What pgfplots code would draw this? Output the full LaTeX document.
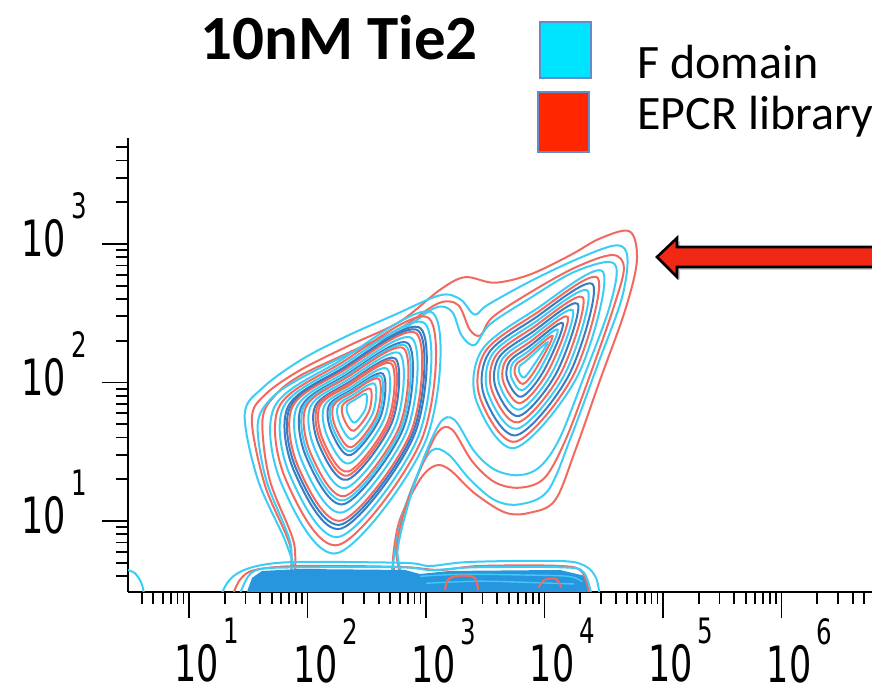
\documentclass[border=0pt]{standalone}
\usepackage{fontspec}
\setmainfont{Carlito}
\newfontfamily\tickfont{DejaVu Sans}
\usepackage{graphicx}
\usepackage{pgfplots}
\pgfplotsset{compat=1.18}

\definecolor{cyl}{RGB}{60,205,245}
\definecolor{rdl}{RGB}{242,105,95}
\definecolor{bll}{RGB}{55,125,195}
\definecolor{flr}{RGB}{40,150,222}
\definecolor{boxcy}{RGB}{0,229,255}
\definecolor{boxrd}{RGB}{255,38,0}
\definecolor{boxedge}{RGB}{100,140,200}
\definecolor{arrowrd}{RGB}{240,40,20}

% decade labels: "10" with the exponent set high and to the right
\newcommand{\dec}[1]{\scalebox{0.7}[1]{\tickfont\fontsize{25bp}{25bp}\selectfont 10\kern3.5bp\raisebox{19bp}{\fontsize{17.5bp}{17.5bp}\selectfont #1}}}

\pgfplotsset{
  cy/.style={cyl, line width=1bp, smooth cycle, tension=0.55},
  rd/.style={rdl, line width=1bp, smooth cycle, tension=0.55},
  bl/.style={bll, line width=1bp, smooth cycle, tension=0.55},
  cyo/.style={cyl, line width=1bp, smooth, tension=0.55},
  rdo/.style={rdl, line width=1bp, smooth, tension=0.55},
}

\begin{document}
\begin{tikzpicture}
\useasboundingbox (0,0) rectangle (436bp,347bp);

\begin{axis}[
  at={(64bp,51bp)}, anchor=south west,
  scale only axis, width=372bp, height=227bp,
  xmin=0.485, xmax=6.764, ymin=0.487, ymax=3.765,
  axis x line*=bottom, axis y line*=left,
  axis line style={line width=1.3bp, black},
  tick align=outside,
  major tick length=13bp, minor tick length=6bp,
  tick style={black, line width=0.9bp},
  xtick={1,2,3,4,5,6},
  xticklabels={\dec{1},\dec{2},\dec{3},\dec{4},\dec{5},\dec{6}},
  minor xtick={0.602,0.699,0.778,0.845,0.903,0.954,
    1.301,1.477,1.602,1.699,1.778,1.845,1.903,1.954,
    2.301,2.477,2.602,2.699,2.778,2.845,2.903,2.954,
    3.301,3.477,3.602,3.699,3.778,3.845,3.903,3.954,
    4.301,4.477,4.602,4.699,4.778,4.845,4.903,4.954,
    5.301,5.477,5.602,5.699,5.778,5.845,5.903,5.954,
    6.301,6.477,6.602,6.699},
  ytick={1,2,3},
  yticklabels={\dec{1},\dec{2},\dec{3}},
  minor ytick={0.602,0.699,0.778,0.845,0.903,0.954,
    1.301,1.477,1.602,1.699,1.778,1.845,1.903,1.954,
    2.301,2.477,2.602,2.699,2.778,2.845,2.903,2.954,
    3.301,3.477,3.602,3.699},
  xticklabel style={anchor=north, inner sep=0pt, xshift=9bp},
  yticklabel style={anchor=base east, inner sep=0pt, xshift=-7.5bp, yshift=-6.5bp},
]

% outer contours that join both populations
\addplot[rd] coordinates {(4.72,3.09) (4.78,2.88) (4.68,2.52) (4.47,2.02) (4.26,1.51) (4.09,1.15) (3.88,1.06) (3.67,1.06) (3.41,1.20) (3.20,1.37) (3.08,1.40) (2.95,1.30) (2.78,1.01) (2.72,0.72) (2.71,0.45) (1.94,0.45) (1.85,0.83) (1.64,1.26) (1.53,1.73) (1.64,1.91) (1.94,2.09) (2.36,2.27) (2.78,2.44) (3.12,2.67) (3.33,2.76) (3.58,2.72) (3.88,2.78) (4.22,2.92) (4.47,3.04)};
\addplot[cy] coordinates {(1.47,1.77) (1.62,1.96) (1.94,2.16) (2.32,2.33) (2.74,2.49) (3.12,2.63) (3.29,2.60) (3.41,2.49) (3.52,2.56) (3.88,2.73) (4.30,2.90) (4.61,2.99) (4.70,2.90) (4.65,2.60) (4.45,2.13) (4.23,1.62) (4.03,1.22) (3.79,1.12) (3.58,1.15) (3.37,1.30) (3.19,1.48) (3.05,1.51) (2.91,1.30) (2.78,0.97) (2.70,0.57) (2.69,0.45) (1.93,0.45) (1.92,0.57) (1.81,0.86) (1.58,1.30)};
\addplot[rd] coordinates {(1.62,1.73) (1.73,1.91) (1.94,2.05) (2.36,2.22) (2.78,2.39) (3.10,2.57) (3.27,2.56) (3.37,2.38) (3.46,2.34) (3.56,2.47) (3.88,2.65) (4.26,2.83) (4.57,2.92) (4.67,2.83) (4.59,2.56) (4.40,2.09) (4.18,1.59) (4.00,1.31) (3.79,1.24) (3.58,1.28) (3.39,1.43) (3.22,1.66) (3.10,1.64) (2.95,1.37) (2.82,1.08) (2.75,0.79) (2.74,0.45) (1.98,0.45) (1.88,0.86) (1.68,1.30)};
\addplot[cy] coordinates {(1.58,1.70) (1.70,1.89) (1.94,2.03) (2.36,2.21) (2.78,2.37) (3.08,2.54) (3.22,2.51) (3.30,2.34) (3.41,2.27) (3.54,2.42) (3.88,2.61) (4.23,2.79) (4.53,2.87) (4.61,2.80) (4.54,2.52) (4.35,2.08) (4.13,1.60) (3.96,1.39) (3.78,1.33) (3.58,1.37) (3.41,1.50) (3.24,1.73) (3.12,1.71) (2.97,1.43) (2.85,1.12) (2.76,0.79) (2.75,0.45) (1.95,0.45) (1.85,0.86) (1.65,1.30)};

% left population
\addplot[cy] coordinates {(1.717,1.816) (2.257,2.148) (3.060,2.500) (3.000,1.585) (2.257,0.769) (1.785,1.260)};
\addplot[rd] coordinates {(1.756,1.817) (2.266,2.131) (3.025,2.464) (2.968,1.599) (2.266,0.828) (1.820,1.292)};
\addplot[cy] coordinates {(1.794,1.818) (2.275,2.114) (2.989,2.427) (2.936,1.613) (2.275,0.887) (1.855,1.324)};
\addplot[bl] coordinates {(1.833,1.820) (2.284,2.097) (2.954,2.391) (2.904,1.627) (2.284,0.945) (1.889,1.355)};
\addplot[bl] coordinates {(1.852,1.820) (2.288,2.088) (2.936,2.373) (2.888,1.634) (2.288,0.975) (1.907,1.371)};
\addplot[rd] coordinates {(1.871,1.821) (2.292,2.080) (2.919,2.354) (2.872,1.641) (2.292,1.004) (1.924,1.387)};
\addplot[cy] coordinates {(1.910,1.822) (2.301,2.063) (2.883,2.318) (2.840,1.655) (2.301,1.063) (1.959,1.419)};
\addplot[bl] coordinates {(1.948,1.823) (2.310,2.046) (2.848,2.282) (2.808,1.668) (2.310,1.122) (1.994,1.451)};
\addplot[cy] coordinates {(1.968,1.824) (2.315,2.037) (2.830,2.263) (2.792,1.675) (2.315,1.151) (2.011,1.467)};
\addplot[rd] coordinates {(1.987,1.824) (2.319,2.029) (2.813,2.245) (2.776,1.682) (2.319,1.181) (2.029,1.483)};
\addplot[cy] coordinates {(2.025,1.826) (2.328,2.012) (2.778,2.209) (2.744,1.696) (2.328,1.239) (2.064,1.514)};
\addplot[bl] coordinates {(2.064,1.827) (2.337,1.995) (2.742,2.172) (2.712,1.710) (2.337,1.298) (2.098,1.546)};
\addplot[rd] coordinates {(2.083,1.827) (2.341,1.986) (2.725,2.154) (2.696,1.717) (2.341,1.328) (2.116,1.562)};
\addplot[rd] coordinates {(2.103,1.828) (2.346,1.977) (2.707,2.136) (2.680,1.724) (2.346,1.357) (2.133,1.578)};
\addplot[cy] coordinates {(2.141,1.829) (2.354,1.960) (2.672,2.099) (2.648,1.738) (2.354,1.416) (2.168,1.610)};
\addplot[bl] coordinates {(2.180,1.831) (2.363,1.943) (2.636,2.063) (2.616,1.752) (2.363,1.475) (2.203,1.641)};
\addplot[cy] coordinates {(2.199,1.831) (2.368,1.935) (2.619,2.045) (2.600,1.759) (2.368,1.504) (2.220,1.657)};
\addplot[rd] coordinates {(2.218,1.832) (2.372,1.926) (2.601,2.027) (2.584,1.766) (2.372,1.533) (2.238,1.673)};
\addplot[cy] coordinates {(2.257,1.833) (2.381,1.909) (2.566,1.990) (2.552,1.780) (2.381,1.592) (2.272,1.705)};
\addplot[rd] coordinates {(2.295,1.834) (2.390,1.892) (2.530,1.954) (2.520,1.794) (2.390,1.651) (2.307,1.737)};
\addplot[cy] coordinates {(2.334,1.835) (2.399,1.875) (2.495,1.917) (2.488,1.808) (2.399,1.710) (2.342,1.769)};

% right population
\addplot[cy] coordinates {(4.494,2.798) (3.920,2.524) (3.473,2.235) (3.422,1.874) (3.751,1.527) (4.283,2.054)};
\addplot[rd] coordinates {(4.451,2.752) (3.913,2.490) (3.502,2.225) (3.455,1.892) (3.758,1.573) (4.247,2.058)};
\addplot[bl] coordinates {(4.409,2.706) (3.906,2.457) (3.531,2.214) (3.488,1.911) (3.764,1.619) (4.211,2.062)};
\addplot[cy] coordinates {(4.366,2.659) (3.900,2.423) (3.560,2.204) (3.521,1.929) (3.771,1.666) (4.175,2.066)};
\addplot[rd] coordinates {(4.324,2.613) (3.893,2.390) (3.589,2.193) (3.554,1.948) (3.778,1.712) (4.140,2.070)};
\addplot[bl] coordinates {(4.281,2.567) (3.886,2.356) (3.618,2.183) (3.587,1.966) (3.785,1.758) (4.104,2.074)};
\addplot[cy] coordinates {(4.239,2.521) (3.879,2.323) (3.647,2.173) (3.620,1.985) (3.791,1.804) (4.068,2.078)};
\addplot[rd] coordinates {(4.196,2.474) (3.872,2.289) (3.676,2.162) (3.653,2.003) (3.798,1.851) (4.032,2.083)};
\addplot[bl] coordinates {(4.154,2.428) (3.866,2.256) (3.705,2.152) (3.686,2.022) (3.805,1.897) (3.996,2.087)};
\addplot[cy] coordinates {(4.111,2.382) (3.859,2.222) (3.734,2.141) (3.719,2.040) (3.811,1.943) (3.960,2.091)};
\addplot[rd] coordinates {(4.068,2.336) (3.852,2.189) (3.763,2.131) (3.752,2.059) (3.818,1.989) (3.925,2.095)};
\addplot[cy] coordinates {(4.026,2.289) (3.845,2.155) (3.792,2.121) (3.785,2.077) (3.825,2.036) (3.889,2.099)};

% events piled on the x axis
\addplot[fill=flr, draw=none] coordinates {(1.473,0.45) (1.532,0.589) (1.616,0.639) (1.937,0.653) (2.823,0.646) (2.949,0.617) (3.203,0.639) (4.131,0.646) (4.342,0.603) (4.401,0.45)};
\addplot[cyo] coordinates {(1.262,0.45) (1.329,0.560) (1.430,0.632) (1.616,0.682) (1.937,0.704) (2.823,0.697) (3.034,0.675) (3.371,0.704) (4.131,0.711) (4.342,0.675) (4.435,0.589) (4.468,0.45)};
\addplot[rdo] coordinates {(1.363,0.45) (1.430,0.575) (1.557,0.646) (1.937,0.675) (2.781,0.668) (3.118,0.646) (3.456,0.675) (4.131,0.675) (4.316,0.632) (4.384,0.45)};
\addplot[cyo] coordinates {(1.42,0.45) (1.50,0.60) (1.62,0.655) (2.00,0.665) (2.80,0.665) (3.05,0.645) (3.40,0.665) (4.15,0.665) (4.33,0.63) (4.40,0.45)};
\addplot[cyo, line width=0.7bp] coordinates {(2.95,0.60) (3.30,0.615) (3.80,0.61) (4.20,0.60) (4.32,0.56)};
\addplot[cyo, line width=0.7bp] coordinates {(3.00,0.55) (3.45,0.565) (3.90,0.555) (4.25,0.545)};
\addplot[rdo, line width=1.1bp] coordinates {(3.16,0.50) (3.19,0.58) (3.29,0.605) (3.41,0.59) (3.44,0.50)};
\addplot[rdo, line width=0.9bp] coordinates {(3.95,0.52) (4.00,0.575) (4.10,0.58) (4.14,0.52)};
\addplot[cyo] coordinates {(0.485,0.645) (0.54,0.625) (0.585,0.575) (0.61,0.52) (0.62,0.46)};
\end{axis}

% title and key
\node[anchor=base west, inner sep=0pt, font=\bfseries\fontsize{31.5bp}{32bp}\selectfont] at (100bp,317bp) {10nM Tie2};
\fill[boxcy, draw=boxedge, line width=1.2bp] (270bp,308bp) rectangle (295.5bp,336bp);
\fill[boxrd, draw=boxedge, line width=1.2bp] (269bp,271bp) rectangle (294.5bp,301bp);
\node[anchor=base west, inner sep=0pt, font=\fontsize{24bp}{24bp}\selectfont] at (318.5bp,307.5bp) {F domain};
\node[anchor=base west, inner sep=0pt, font=\fontsize{24bp}{24bp}\selectfont] at (318.5bp,282bp) {EPCR library};

% arrow pointing at the upper right population
\fill[black, opacity=0.2] (442bp,222bp) -- (340bp,222bp) -- (340bp,226.5bp) -- (330bp,217bp) -- (340bp,207bp) -- (340bp,212bp) -- (442bp,212bp) -- cycle;
\draw[line width=1.3bp, draw=black, fill=arrowrd] (442bp,223.5bp) -- (338.5bp,223.5bp) -- (338.5bp,228bp) -- (328.5bp,218.5bp) -- (338.5bp,208.5bp) -- (338.5bp,213.5bp) -- (442bp,213.5bp) -- cycle;
\end{tikzpicture}
\end{document}
